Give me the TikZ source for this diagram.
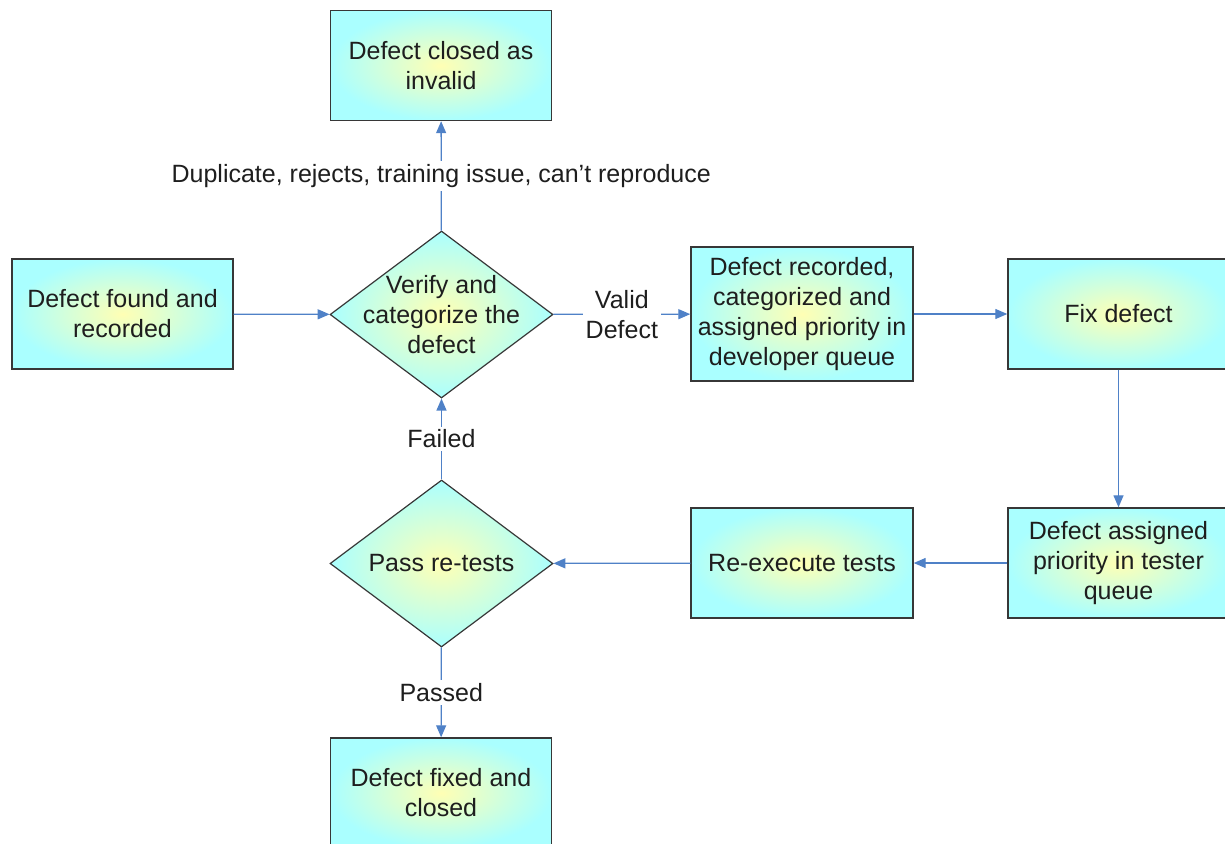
\documentclass[tikz,border=0pt]{standalone}
\usepackage{fontspec}
\setmainfont{Liberation Sans}
\usetikzlibrary{shapes.geometric,arrows.meta}
\definecolor{lineblue}{RGB}{79,129,199}
\definecolor{bordergray}{RGB}{55,55,55}
\definecolor{innery}{RGB}{255,255,180}
\definecolor{outerc}{RGB}{170,255,255}
\definecolor{txtc}{RGB}{30,30,30}
\begin{document}
\begin{tikzpicture}[x=1pt,y=-1pt,
  font=\fontsize{25}{30}\selectfont,
  every node/.style={text=txtc},
  procbox/.style={draw=bordergray,line width=1.4pt,inner color=innery,outer color=outerc,
    minimum width=221pt,minimum height=110pt,align=center,inner sep=0pt},
  decision/.style={diamond,draw=bordergray,line width=1.2pt,inner color=innery,outer color=outerc,
    minimum width=223pt,minimum height=167pt,inner sep=0pt},
  flow/.style={draw=lineblue,line width=1.3pt,-{Triangle[length=12pt,width=10pt]}},
  lbl/.style={fill=white,inner sep=3pt,align=center}]
\useasboundingbox (0,0) rectangle (1225,843);
\clip (0,0) rectangle (1225,843);

\node[procbox] (invalid) at (441,65.5) {Defect closed as\\invalid};
\node[decision,label={[align=center]center:Verify and\\categorize the\\defect}] (verify) at (441.5,314.5) {};
\node[procbox] (found) at (122.5,314) {Defect found and\\recorded};
\node[procbox,minimum width=222pt,minimum height=134pt] (recorded) at (802,314) {Defect recorded,\\categorized and\\assigned priority in\\developer queue};
\node[procbox] (fix) at (1118.5,314) {Fix defect};
\node[procbox] (assigned) at (1118.5,563) {Defect assigned\\priority in tester\\queue};
\node[procbox,minimum width=222pt] (reexec) at (802,563) {Re-execute tests};
\node[decision,label={[align=center]center:Pass re-tests}] (pass) at (441.5,563.5) {};
\node[procbox] (closed) at (441,793) {Defect fixed and\\closed};

\draw[flow] (found) -- (verify);
\draw[flow] (verify) -- node[lbl] {Valid\\Defect} (recorded);
\draw[flow] (verify) -- node[lbl] {Duplicate, rejects, training issue, can’t reproduce} (invalid);
\draw[flow] (recorded) -- (fix);
\draw[flow] (fix) -- (assigned);
\draw[flow] (assigned) -- (reexec);
\draw[flow] (reexec) -- (pass);
\draw[flow] (pass) -- node[lbl] {Failed} (verify);
\draw[flow] (pass) -- node[lbl] {Passed} (closed);
\end{tikzpicture}
\end{document}
